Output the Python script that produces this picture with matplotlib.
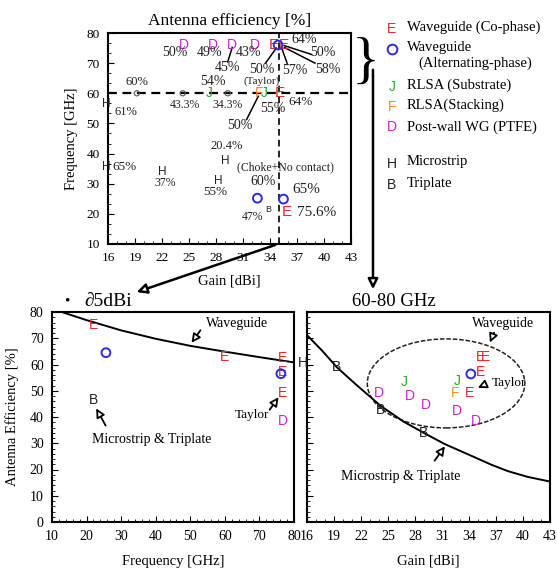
import numpy as np
import matplotlib.pyplot as plt
from matplotlib.patches import Ellipse, FancyArrowPatch
from matplotlib.lines import Line2D
from matplotlib.ticker import MultipleLocator

W, H = 557, 571
plt.rcParams['font.family'] = ['Liberation Serif', 'DejaVu Serif']
SANS = 'Liberation Sans'

col = {'E': '#ee2424', 'O': '#2a2ae8', 'J': '#22aa22', 'F': '#ff8c1a',
       'D': '#cc22cc', 'H': '#222222', 'B': '#222222'}

# ---- top chart: gain [dBi] vs frequency [GHz]
top_E_gain = [34.4, 35.5, 35.1, 35.9]
top_E_freq = [76, 76, 60, 20.5]
top_O_gain = [34.9, 32.6, 35.5]
top_O_freq = [76, 25.2, 24.9]
top_J_gain = [27.2, 33.4]
top_J_freq = [60, 60]
top_F_gain = [32.8]
top_F_freq = [60]
top_D_gain = [24.4, 27.6, 29.8, 32.3]
top_D_freq = [76, 76, 76, 76]
top_H_gain = [15.8, 15.8, 22.0, 28.2, 29.0]
top_H_freq = [56.5, 35.5, 34.0, 31.0, 37.5]
top_B_gain = [33.8]
top_B_freq = [21.6]
top_o_gain = [19.2, 24.3, 29.3]
top_o_freq = [60, 60, 60]

# efficiency labels (text, gain, freq, size)
top_labels = [
    ('50%', 23.4, 73.4, 10), ('49%', 27.3, 73.4, 10), ('43%', 31.6, 73.4, 10),
    ('45%', 29.3, 68.4, 10), ('50%', 33.1, 67.9, 10), ('(Taylor)', 33.1, 63.9, 8),
    ('57%', 36.8, 67.7, 10), ('64%', 37.8, 77.9, 10), ('50%', 39.9, 73.4, 10),
    ('58%', 40.4, 67.9, 10), ('60%', 19.2, 63.9, 9), ('54%', 27.7, 63.9, 10),
    ('43.3%', 24.6, 56.1, 8.5), ('34.3%', 29.3, 56.1, 8.5), ('55%', 34.3, 55.1, 10),
    ('64%', 37.4, 57.1, 9.5), ('50%', 30.7, 49.3, 10), ('61%', 18.0, 53.8, 9),
    ('20.4%', 29.2, 42.6, 9), ('65%', 17.8, 35.5, 9.5), ('37%', 22.3, 30.2, 8.5),
    ('55%', 27.9, 27.2, 9.5), ('(Choke+No contact)', 35.7, 35.5, 8.5),
    ('60%', 33.2, 30.9, 10), ('65%', 38.0, 28.0, 11), ('47%', 32.1, 19.0, 8.5),
    ('75.6%', 39.2, 20.6, 11),
]
top_leaders = [
    ((29.8, 75.2), (29.3, 70.4)), ((34.7, 75.0), (33.5, 70.0)),
    ((35.3, 75.0), (35.9, 70.0)), ((35.6, 75.8), (38.6, 72.9)),
    ((35.6, 75.2), (39.0, 70.0)), ((32.7, 59.0), (31.4, 51.3)),
]

# ---- bottom-left: frequency vs efficiency (>=35 dBi)
bl_E_freq = [22, 60, 76.7, 76.7, 76.7]
bl_E_eff = [75, 63, 62.5, 57, 49]
bl_O_freq = [25.6, 76.2]
bl_O_eff = [64.5, 56.5]
bl_D_freq = [76.8]
bl_D_eff = [38.5]
bl_B_freq = [22]
bl_B_eff = [46.5]
wg_freq = [12.8, 20, 30, 40, 50, 60, 70, 80]
wg_eff = [80, 76.9, 73.0, 69.8, 67.1, 64.9, 62.8, 60.8]

# ---- bottom-right: gain vs efficiency (60-80 GHz)
br_E_gain = [35.3, 35.8, 35.3, 34.0]
br_E_eff = [62.9, 62.9, 57.1, 49]
br_O_gain = [34.2]
br_O_eff = [56.4]
br_J_gain = [26.8, 32.7]
br_J_eff = [53.3, 53.7]
br_F_gain = [32.5]
br_F_eff = [49]
br_D_gain = [24.0, 27.4, 29.2, 32.7, 34.8]
br_D_eff = [49, 48, 44.6, 42.3, 38.5]
br_B_gain = [19.3, 24.2, 29.0]
br_B_eff = [59, 42.7, 33.9]
br_H_gain = [15.5]
br_H_eff = [60.6]
ms_gain = [16, 17.7, 19.3, 21.5, 24.2, 26.8, 29.0, 31.3, 34.8, 36.5, 38.3, 40.5, 43]
ms_eff = [71.2, 65.2, 59, 52.2, 44.2, 38.1, 33.9, 29.7, 24.4, 21.8, 19.4, 17.2, 15.4]

legend_items = [('E', 'Waveguide (Co-phase)'), ('O', 'Waveguide'),
                ('J', 'RLSA (Substrate)'), ('F', 'RLSA(Stacking)'),
                ('D', 'Post-wall WG (PTFE)'), ('H', 'Microstrip'), ('B', 'Triplate')]


def rect(l, t, r, b):
    return [l / W, 1 - b / H, (r - l) / W, (b - t) / H]


def letters(ax, xs, ys, ch, size=10):
    for x, y in zip(xs, ys):
        ax.text(x, y, ch, color=col[ch], fontsize=size, family=SANS,
                ha='center', va='center', clip_on=False)


def circles(ax, xs, ys, s=36):
    ax.scatter(xs, ys, s=s, facecolors='none', edgecolors=col['O'], linewidths=1.4,
               zorder=3, clip_on=False)


def style(ax):
    ax.tick_params(which='both', direction='in', labelsize=10, pad=6)
    ax.tick_params(which='major', length=4)
    ax.tick_params(which='minor', length=2.5)
    for s in ax.spines.values():
        s.set_linewidth(1.5)


fig = plt.figure(figsize=(W / 100, H / 100), dpi=100)

# top chart
ax = fig.add_axes(rect(108, 33, 351, 244))
ax.set_xlim(16, 43)
ax.set_ylim(10, 80)
ax.set_xticks(np.arange(16, 44, 3))
ax.set_xticks(np.arange(16, 44, 1), minor=True)
ax.yaxis.set_major_locator(MultipleLocator(10))
ax.yaxis.set_minor_locator(MultipleLocator(10 / 3))
style(ax)
ax.tick_params(labelsize=9.5)
ax.axhline(60, color='black', lw=1.6, ls=(0, (4, 2.5)))
ax.axvline(35, color='black', lw=1.2, ls=(0, (4, 2.5)))
letters(ax, top_E_gain, top_E_freq, 'E', 11)
letters(ax, top_J_gain, top_J_freq, 'J', 10)
letters(ax, top_F_gain, top_F_freq, 'F', 10)
letters(ax, top_D_gain, top_D_freq, 'D', 10)
letters(ax, top_H_gain, top_H_freq, 'H', 8.5)
letters(ax, top_B_gain, top_B_freq, 'B', 6.5)
circles(ax, top_O_gain, top_O_freq, 40)
ax.scatter(top_o_gain, top_o_freq, s=14, facecolors='none', edgecolors='#555555',
           linewidths=0.8, zorder=3)
for t, x, y, fs in top_labels:
    ax.text(x, y, t, fontsize=fs, ha='center', va='center', color='#222222')
for (x0, y0), (x1, y1) in top_leaders:
    ax.plot([x0, x1], [y0, y1], color='black', lw=1.1)
ax.set_title('Antenna efficiency [%]', fontsize=12.5, pad=6)
ax.set_xlabel('Gain [dBi]', fontsize=10.5)
ax.set_ylabel('Frequency [GHz]', fontsize=10.5)
ax.xaxis.set_label_coords(0.5, -0.145)
ax.yaxis.set_label_coords(-0.125, 0.5)

# bottom-left chart
ax = fig.add_axes(rect(52, 312, 294, 522))
ax.set_xlim(10, 80)
ax.set_ylim(0, 80)
ax.xaxis.set_major_locator(MultipleLocator(10))
ax.xaxis.set_minor_locator(MultipleLocator(2))
ax.yaxis.set_major_locator(MultipleLocator(10))
ax.yaxis.set_minor_locator(MultipleLocator(2))
style(ax)
ax.plot(wg_freq, wg_eff, color='black', lw=1.4)
letters(ax, bl_E_freq, bl_E_eff, 'E', 10)
circles(ax, bl_O_freq, bl_O_eff, 40)
letters(ax, bl_D_freq, bl_D_eff, 'D', 10)
letters(ax, bl_B_freq, bl_B_eff, 'B', 10)
arrow = dict(arrowstyle='-|>', fc='white', ec='black', lw=1.3, mutation_scale=13)
ax.annotate('', xy=(49.9, 67.4), xytext=(53.4, 73.9), arrowprops=arrow)
ax.text(63.5, 75.8, 'Waveguide', fontsize=10, ha='center', va='center')
ax.annotate('', xy=(76.0, 48.4), xytext=(72.5, 41.9), arrowprops=arrow)
ax.text(67.9, 40.8, 'Taylor', fontsize=9.5, ha='center', va='center')
ax.annotate('', xy=(22.4, 44.2), xytext=(25.9, 35.8), arrowprops=arrow)
ax.text(38.9, 31.6, 'Microstrip & Triplate', fontsize=10, ha='center', va='center')
ax.set_xlabel('Frequency [GHz]', fontsize=10.5)
ax.set_ylabel('Antenna Efficiency [%]', fontsize=10.5)
ax.xaxis.set_label_coords(0.5, -0.155)
ax.yaxis.set_label_coords(-0.135, 0.5)

# bottom-right chart
ax = fig.add_axes(rect(307, 312, 550, 522))
ax.set_xlim(16, 43)
ax.set_ylim(0, 80)
ax.set_xticks(np.arange(16, 44, 3))
ax.set_xticks(np.arange(16, 44, 1), minor=True)
ax.yaxis.set_major_locator(MultipleLocator(10))
ax.yaxis.set_minor_locator(MultipleLocator(2))
style(ax)
ax.set_yticklabels([])
ax.plot(ms_gain, ms_eff, color='black', lw=1.4)
ax.add_patch(Ellipse((31.45, 52.8), 17.5, 33.9, fill=False, ec='#222222',
                     lw=1.1, ls=(0, (3, 1.2))))
letters(ax, br_E_gain, br_E_eff, 'E', 10)
circles(ax, br_O_gain, br_O_eff, 40)
letters(ax, br_J_gain, br_J_eff, 'J', 10)
letters(ax, br_F_gain, br_F_eff, 'F', 10)
letters(ax, br_D_gain, br_D_eff, 'D', 10)
letters(ax, br_B_gain, br_B_eff, 'B', 10)
letters(ax, br_H_gain, br_H_eff, 'H', 10)
ax.annotate('', xy=(36.2, 67.4), xytext=(36.9, 73.1), arrowprops=arrow)
ax.text(37.8, 75.8, 'Waveguide', fontsize=10, ha='center', va='center')
ax.annotate('', xy=(34.7, 50.7), xytext=(36.2, 53.0), arrowprops=arrow)
ax.text(38.5, 53.0, 'Taylor', fontsize=9.5, ha='center', va='center')
ax.annotate('', xy=(31.5, 29.7), xytext=(30.0, 22.5), arrowprops=arrow)
ax.text(26.4, 17.5, 'Microstrip & Triplate', fontsize=10, ha='center', va='center')
ax.set_xlabel('Gain [dBi]', fontsize=10.5)
ax.xaxis.set_label_coords(0.5, -0.155)

# connecting arrows and headings
big = dict(arrowstyle='-|>', fc='white', ec='black', lw=1.8, mutation_scale=15)
fig.patches.append(FancyArrowPatch((278 / W, 1 - 244 / H), (134 / W, 1 - 293 / H),
                                   transform=fig.transFigure, **big))
fig.patches.append(FancyArrowPatch((373 / W, 1 - 67 / H), (373 / W, 1 - 292 / H),
                                   transform=fig.transFigure, **big))
fig.text(67 / W, 1 - 301 / H, '\u2022', fontsize=11, ha='center', va='center')
fig.text(84 / W, 1 - 301 / H, '\u22025dBi', fontsize=14, ha='left', va='center')
fig.text(394 / W, 1 - 302 / H, '60-80 GHz', fontsize=13.5, ha='center', va='center')
fig.text(366 / W, 1 - 64 / H, '}', fontsize=42, ha='center', va='center')

# legend
rows = [27, 47, 85, 105, 127, 162, 183]
mrows = [29, 49, 87, 107, 127, 164, 185]
for (ch, label), ty, my in zip(legend_items, rows, mrows):
    if ch == 'O':
        fig.add_artist(Line2D([392 / W], [1 - my / H], marker='o', ms=7, mfc='none',
                              mec=col['O'], mew=1.4, transform=fig.transFigure))
    else:
        fig.text(392 / W, 1 - my / H, ch, color=col[ch], fontsize=10, family=SANS,
                 ha='center', va='center')
    fig.text(407 / W, 1 - ty / H, label, fontsize=10.5, ha='left', va='center')
fig.text(418 / W, 1 - 63 / H, '(Alternating-phase)', fontsize=10.5, ha='left', va='center')

fig.savefig('out.png', dpi=100)
